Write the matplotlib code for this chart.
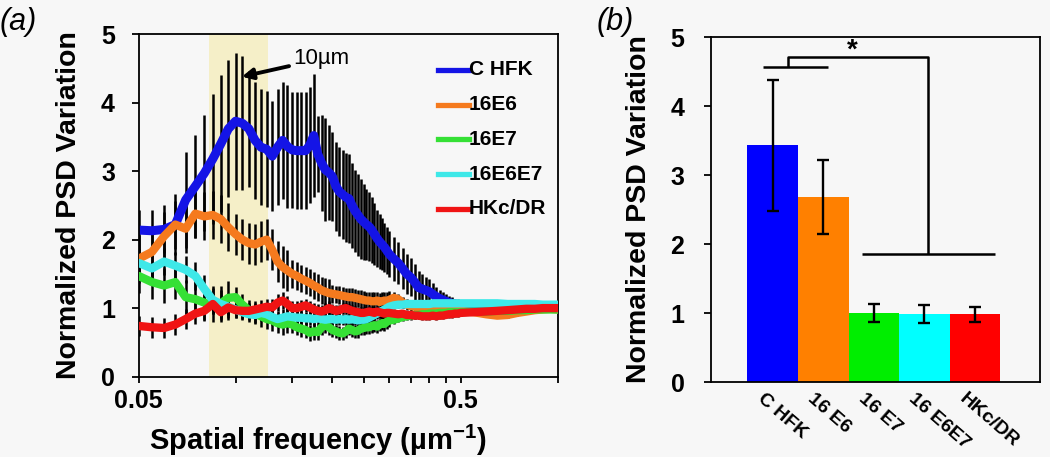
import numpy as np
import matplotlib
matplotlib.use("Agg")
import matplotlib.pyplot as plt
from matplotlib.ticker import FixedLocator, NullFormatter
from matplotlib.lines import Line2D

plt.rcParams['font.family'] = ['Liberation Sans', 'DejaVu Sans']
plt.rcParams['mathtext.fontset'] = 'custom'
plt.rcParams['mathtext.rm'] = 'Liberation Sans'
plt.rcParams['mathtext.bf'] = 'Liberation Sans:bold'

# ---------------- data: panel (a) ----------------
freq = [0.050, 0.055, 0.060, 0.065, 0.070, 0.075, 0.080, 0.085, 0.090, 0.095,
        0.100, 0.105, 0.110, 0.115, 0.120, 0.125, 0.130, 0.135, 0.140, 0.145,
        0.150, 0.155, 0.160, 0.165, 0.170, 0.175, 0.180, 0.185, 0.190, 0.195,
        0.200, 0.205, 0.210, 0.215, 0.220, 0.225, 0.230, 0.235, 0.240, 0.245,
        0.250, 0.255, 0.260, 0.265, 0.270, 0.275, 0.280, 0.285, 0.290, 0.295, 0.300,
        0.31, 0.32, 0.33, 0.34, 0.35, 0.36, 0.37, 0.38, 0.39, 0.40,
        0.41, 0.42, 0.43, 0.44, 0.45, 0.46, 0.47, 0.48, 0.49, 0.50,
        0.55, 0.60, 0.65, 0.70, 0.75, 0.80, 0.85, 0.90, 0.95, 1.00]

c_hfk = [2.14, 2.13, 2.15, 2.22, 2.58, 2.78, 2.97, 3.18, 3.40, 3.62,
         3.73, 3.70, 3.62, 3.45, 3.35, 3.32, 3.22, 3.35, 3.45, 3.36,
         3.31, 3.30, 3.30, 3.30, 3.38, 3.52, 3.25, 3.12, 3.02, 2.98,
         2.92, 2.78, 2.70, 2.66, 2.62, 2.60, 2.50, 2.42, 2.36, 2.30,
         2.26, 2.22, 2.19, 2.14, 2.08, 2.02, 1.97, 1.93, 1.89, 1.84, 1.79,
         1.72, 1.66, 1.58, 1.50, 1.45, 1.38, 1.30, 1.28, 1.26, 1.24,
         1.20, 1.17, 1.14, 1.12, 1.10, 1.08, 1.07, 1.06, 1.05, 1.05,
         1.04, 1.04, 1.04, 1.03, 1.03, 1.02, 1.02, 1.01, 1.01, 1.00]
c_hfk_err = [0.30, 0.30, 0.35, 0.45, 0.70, 0.75, 0.85, 0.95, 1.00, 1.00,
             1.00, 0.98, 0.85, 0.85, 0.85, 0.85, 0.80, 0.85, 0.85, 0.90,
             0.85, 0.85, 0.85, 0.85, 0.85, 0.90, 0.55, 0.70, 0.75, 0.70,
             0.65, 0.65, 0.65, 0.65, 0.65, 0.65, 0.62, 0.60, 0.60, 0.58,
             0.55, 0.52, 0.50, 0.48, 0.45, 0.42, 0.40, 0.38, 0.36, 0.34, 0.33,
             0.32, 0.31, 0.30, 0.29, 0.28, 0.26, 0.24, 0.22, 0.20, 0.18,
             0.16, 0.14, 0.13, 0.12, 0.11, 0.10, 0.09, 0.08, 0.08, 0.07,
             0.06, 0.05, 0.05, 0.04, 0.04, 0.03, 0.03, 0.03, 0.02, 0.02]

e6 = [1.72, 1.82, 2.05, 2.22, 2.16, 2.38, 2.34, 2.36, 2.30, 2.18,
      2.08, 2.00, 1.95, 1.93, 1.97, 2.00, 1.85, 1.68, 1.60, 1.55,
      1.50, 1.47, 1.43, 1.40, 1.37, 1.33, 1.30, 1.26, 1.24, 1.22,
      1.21, 1.20, 1.19, 1.18, 1.17, 1.16, 1.16, 1.15, 1.14, 1.13,
      1.12, 1.11, 1.11, 1.10, 1.10, 1.11, 1.09, 1.10, 1.11, 1.10, 1.12,
      1.15, 1.13, 1.08, 1.05, 1.03, 1.02, 1.01, 1.00, 1.00, 0.99,
      0.99, 0.98, 0.98, 0.98, 0.97, 0.97, 0.97, 0.96, 0.96, 0.96,
      0.94, 0.91, 0.89, 0.90, 0.93, 0.95, 0.97, 0.98, 0.99, 0.98]
e6_err = [0.35] * 10 + [0.30] * 10 + [0.20] * 10 + [0.13] * 21 + [0.08] * 20 + [0.04] * 10

e7 = [1.47, 1.38, 1.33, 1.38, 1.16, 1.13, 1.08, 1.05, 1.07, 1.15,
      1.16, 1.05, 0.97, 0.92, 0.88, 0.84, 0.82, 0.78, 0.76, 0.78,
      0.76, 0.72, 0.70, 0.68, 0.64, 0.66, 0.65, 0.72, 0.75, 0.72,
      0.68, 0.66, 0.64, 0.63, 0.66, 0.70, 0.68, 0.66, 0.67, 0.70,
      0.71, 0.72, 0.72, 0.74, 0.75, 0.73, 0.76, 0.78, 0.77, 0.80, 0.82,
      0.83, 0.85, 0.87, 0.88, 0.89, 0.90, 0.90, 0.91, 0.91, 0.92,
      0.92, 0.92, 0.93, 0.93, 0.93, 0.94, 0.94, 0.94, 0.94, 0.94,
      0.95, 0.95, 0.96, 0.96, 0.97, 0.97, 0.98, 0.98, 0.98, 0.98]
e7_err = [0.25] * 10 + [0.15] * 10 + [0.12] * 10 + [0.10] * 21 + [0.06] * 20 + [0.03] * 10

e6e7 = [1.66, 1.58, 1.68, 1.62, 1.56, 1.47, 1.28, 1.12, 1.06, 1.02,
        0.98, 0.94, 0.91, 0.90, 0.93, 0.91, 0.87, 0.84, 0.86, 0.88,
        0.87, 0.86, 0.86, 0.85, 0.85, 0.84, 0.85, 0.84, 0.83, 0.84,
        0.84, 0.83, 0.84, 0.83, 0.84, 0.83, 0.84, 0.83, 0.82, 0.83,
        0.83, 0.84, 0.86, 0.88, 0.90, 0.92, 0.94, 0.96, 0.98, 1.00, 1.02,
        1.04, 1.05, 1.05, 1.06, 1.06, 1.06, 1.06, 1.06, 1.06, 1.06,
        1.07, 1.07, 1.07, 1.07, 1.07, 1.07, 1.07, 1.07, 1.07, 1.07,
        1.07, 1.07, 1.07, 1.06, 1.06, 1.06, 1.06, 1.05, 1.05, 1.05]
e6e7_err = [0.20] * 10 + [0.12] * 10 + [0.10] * 10 + [0.08] * 21 + [0.05] * 20 + [0.03] * 10

hkc = [0.74, 0.72, 0.71, 0.76, 0.84, 0.92, 0.96, 1.06, 0.94, 1.01,
       0.97, 0.96, 0.96, 0.98, 1.00, 1.02, 1.01, 1.08, 1.11, 1.06,
       1.00, 1.00, 1.02, 1.04, 1.01, 0.98, 0.96, 0.95, 0.97, 1.00,
       0.98, 0.96, 0.97, 0.99, 1.00, 0.98, 0.96, 0.95, 0.94, 0.93,
       0.93, 0.94, 0.95, 0.94, 0.93, 0.95, 0.94, 0.93, 0.92, 0.93, 0.93,
       0.92, 0.91, 0.92, 0.90, 0.90, 0.89, 0.89, 0.88, 0.88, 0.88,
       0.89, 0.88, 0.89, 0.89, 0.90, 0.91, 0.91, 0.92, 0.92, 0.93,
       0.94, 0.95, 0.96, 0.97, 0.98, 0.99, 0.99, 1.00, 1.00, 1.00]
hkc_err = [0.15] * 10 + [0.12] * 10 + [0.10] * 10 + [0.08] * 21 + [0.05] * 20 + [0.03] * 10

series_names = ['C HFK', '16E6', '16E7', '16E6E7', 'HKc/DR']
series_vals = [c_hfk, e6, e7, e6e7, hkc]
series_errs = [c_hfk_err, e6_err, e7_err, e6e7_err, hkc_err]
line_colors = ['#1414e6', '#f57a1e', '#35e035', '#3ee8e8', '#f01414']

# ---------------- data: panel (b) ----------------
bar_labels = ['C HFK', '16 E6', '16 E7', '16 E6E7', 'HKc/DR']
bar_means = [3.43, 2.68, 1.00, 0.98, 0.98]
bar_errs = [0.95, 0.54, 0.125, 0.13, 0.11]
bar_colors = ['#0000ff', '#ff8000', '#00ee00', '#00ffff', '#ff0000']

BG = '#f7f7f7'
fig = plt.figure(figsize=(10.5, 4.57), dpi=100, facecolor=BG)

# ================= panel (a) =================
ax = fig.add_axes([0.132, 0.176, 0.399, 0.749], facecolor=BG)
ax.set_xscale('log')
ax.axvspan(0.083, 0.126, color='#f5efc8', zorder=0, lw=0)

f = np.array(freq)
for vals, errs in zip(series_vals, series_errs):
    ax.errorbar(f, vals, yerr=errs, fmt='none', ecolor='black',
                elinewidth=1.8, capsize=0, zorder=1)
for vals, col, i in zip(series_vals, line_colors, range(5)):
    ax.plot(f, vals, color=col, lw=6.5 if i == 0 else 6.0,
            solid_joinstyle='round', solid_capstyle='round', zorder=2 + i)

ax.set_xlim(0.05, 1.0)
ax.set_ylim(0, 5)
ax.set_xticks([0.05, 0.5])
ax.set_xticklabels(['0.05', '0.5'])
ax.xaxis.set_minor_locator(FixedLocator([0.1, 0.15, 0.2, 0.25, 0.3, 0.35, 0.4, 0.45, 1.0]))
ax.xaxis.set_minor_formatter(NullFormatter())
ax.set_yticks([0, 1, 2, 3, 4, 5])
ax.tick_params(axis='both', which='both', direction='out', width=1.3, colors='black')
ax.tick_params(axis='y', length=5, labelsize=18, pad=12)
ax.tick_params(axis='x', which='both', length=4, labelsize=18, pad=5)
for lab in ax.get_xticklabels() + ax.get_yticklabels():
    lab.set_fontweight('bold')
for s in ax.spines.values():
    s.set_linewidth(1.3)
ax.set_ylabel('Normalized PSD Variation', fontsize=20.5, fontweight='bold')
ax.yaxis.set_label_coords(-0.135, 0.5)
ax.set_xlabel(r'Spatial frequency (µm$^{\mathbf{-1}}$)', fontsize=21,
              fontweight='bold')
ax.xaxis.set_label_coords(0.428, -0.135)

# legend (manual, line sample then label)
for k, (name, col) in enumerate(zip(series_names, line_colors)):
    yy = 0.896 - k * 0.1015
    ax.add_line(Line2D([0.714, 0.788], [yy, yy], transform=ax.transAxes,
                       color=col, lw=3.8, zorder=10))
    ax.text(0.788, yy, name, transform=ax.transAxes, fontsize=15,
            fontweight='bold', va='center', ha='left', zorder=10)

ax.annotate('10µm', xy=(0.1046, 4.38), xytext=(0.151, 4.64),
            fontsize=16, va='center', ha='left',
            arrowprops=dict(arrowstyle='-|>', color='black', lw=2.8,
                            mutation_scale=16, shrinkA=1, shrinkB=0))
fig.text(0.0, 0.952, '(a)', fontsize=22, style='italic', va='center', ha='left')

# ================= panel (b) =================
ax2 = fig.add_axes([0.677, 0.164, 0.313, 0.755], facecolor=BG)
xb = np.arange(len(bar_means))
ax2.bar(xb, bar_means, width=1.0, color=bar_colors, zorder=2,
        yerr=bar_errs, capsize=4,
        error_kw=dict(ecolor='black', elinewidth=1.7, capthick=1.7, zorder=3))
ax2.set_xlim(-1.225, 5.28)
ax2.set_ylim(0, 5)
ax2.set_yticks([0, 1, 2, 3, 4, 5])
ax2.tick_params(axis='y', direction='out', length=5, width=1.3, labelsize=18, pad=14)
for lab in ax2.get_yticklabels():
    lab.set_fontweight('bold')
ax2.set_xticks(xb - 0.15)
ax2.set_xticklabels(bar_labels, rotation=-41, ha='left', va='top',
                    rotation_mode='anchor', fontsize=14, fontweight='bold')
ax2.tick_params(axis='x', length=0, pad=6)
for s in ax2.spines.values():
    s.set_linewidth(1.3)
ax2.set_ylabel('Normalized PSD Variation', fontsize=20.5, fontweight='bold')
ax2.yaxis.set_label_coords(-0.18, 0.5)

# significance bracket
kw = dict(color='black', lw=1.8, zorder=4, solid_capstyle='butt')
ax2.plot([-0.19, 1.09], [4.56, 4.56], **kw)
ax2.plot([0.30, 0.30, 3.08, 3.08], [4.56, 4.71, 4.71, 1.85], **kw)
ax2.plot([1.77, 4.40], [1.85, 1.85], **kw)
ax2.text(1.57, 4.80, '*', fontsize=20, fontweight='bold', ha='center', va='center')
fig.text(0.568, 0.952, '(b)', fontsize=22, style='italic', va='center', ha='left')

fig.savefig('out.png', dpi=100, facecolor=BG)
